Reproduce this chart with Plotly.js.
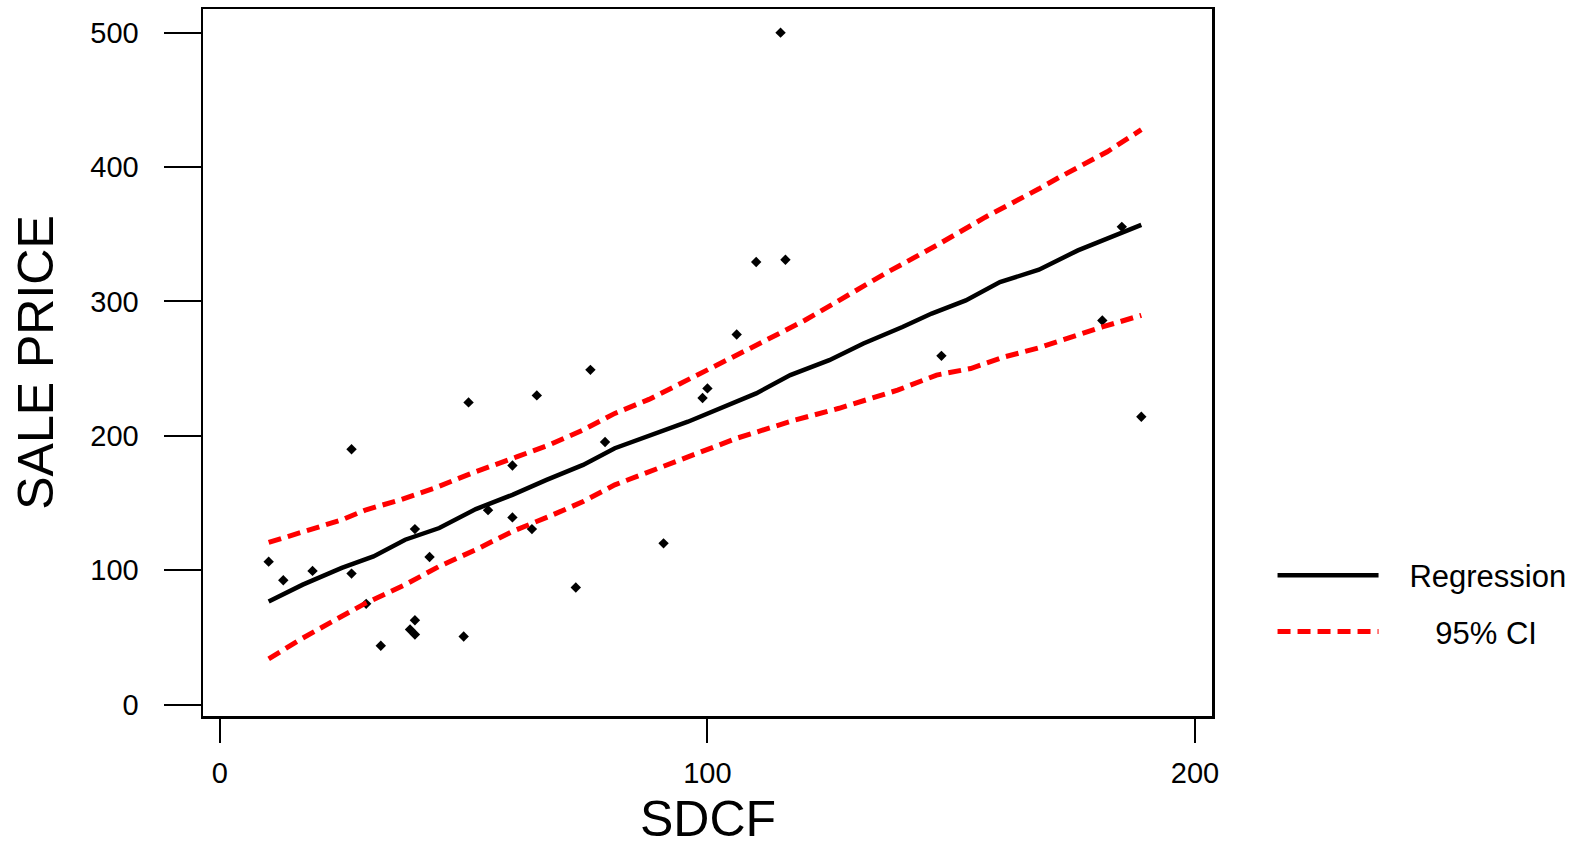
<!DOCTYPE html>
<html>
<head>
<meta charset="utf-8">
<script src="https://cdn.plot.ly/plotly-3.0.1.min.js"></script>
<style>html,body{margin:0;padding:0;background:#fff;}#chart{width:1581px;height:842px;}</style>
</head>
<body>
<div id="chart"></div>
<script>
// Observed data points (SDCF vs SALE PRICE)
const sdcf = [10, 13, 19, 27, 27, 30, 33, 40, 39, 40, 40, 43, 50, 51, 55, 60, 60, 64, 65, 73, 76, 79,
              91, 99, 100, 106, 110, 115, 116, 148, 181, 185, 189];
const salePrice = [106.4, 92.5, 99.5, 190, 97.5, 75, 43.8, 130.6, 55.9, 52.2, 62.8, 109.9, 50.7, 224.9, 144.7, 177.9, 139.3, 130.6, 230.1, 87.1, 249.1, 195.4,
                   120, 228.1, 235.3, 275.4, 329.3, 500, 331, 259.5, 285.8, 355.5, 214.2];

// Regression line
const regX = [10, 17, 25, 31.5, 38, 45, 52.5, 60, 67, 74.5, 81, 88, 96, 110, 117, 125, 132, 140, 146, 153, 160, 168, 176, 189];
const regY = [76.7, 89.3, 101.7, 110.3, 122.7, 131.4, 145.5, 156.1, 167.2, 178.4, 190.8, 199.9, 210.5, 231.6, 245.2, 256.3, 268.7, 281, 291, 300.8, 314.4, 323.6, 338, 357];

// Upper 95% CI
const upX = [10, 18, 25, 30, 37, 44, 52.5, 61, 67.5, 74.5, 81, 88, 96, 103, 110, 120, 127, 137, 147, 157, 168, 172, 182, 189];
const upY = [120.7, 130.1, 137.5, 145, 152.4, 161.1, 173.4, 184.5, 193.2, 204.4, 216.7, 227.1, 241.5, 253.9, 267.4, 286, 301, 321.9, 341.7, 362.7, 383.8, 392, 411.4, 427.8];

// Lower 95% CI
const loX = [10, 16.5, 25, 30, 38, 45, 52.5, 60, 67.5, 74.5, 81, 88, 96, 106, 118, 127, 139, 147, 154, 161, 168, 174.5, 181, 189];
const loY = [34.1, 48.5, 65.8, 75.7, 89.3, 102.9, 115.3, 128.9, 140, 151.1, 163.5, 173.4, 184.5, 198.2, 211.8, 220.5, 234, 245.2, 250.1, 258.8, 265.5, 273.6, 281, 289.7];

const xTicks = [0, 100, 200];
const yTicks = [0, 100, 200, 300, 400, 500];
const xTitle = 'SDCF';
const yTitle = 'SALE PRICE';

const FONT = 'Liberation Sans, Arial, sans-serif';
const red = '#ff0000';
const dashStyle = '13px,7px';
const NB = '\u00a0';

const traces = [
  {x: sdcf, y: salePrice, type: 'scatter', mode: 'markers', showlegend: false,
   marker: {symbol: 'diamond', size: 8, color: '#000'}},
  {x: regX, y: regY, type: 'scatter', mode: 'lines', name: NB.repeat(3) + 'Regression', legendgroup: 'a',
   line: {color: '#000', width: 4.5}},
  {x: upX, y: upY, type: 'scatter', mode: 'lines', name: NB.repeat(6) + '95% CI', legendgroup: 'b',
   line: {color: red, width: 5, dash: dashStyle}},
  {x: loX, y: loY, type: 'scatter', mode: 'lines', showlegend: false, legendgroup: 'b',
   line: {color: red, width: 5, dash: dashStyle}}
];

const layout = {
  width: 1581, height: 842,
  margin: {l: 203, r: 369, t: 9, b: 126, autoexpand: false},
  paper_bgcolor: '#fff', plot_bgcolor: '#fff',
  font: {family: FONT, color: '#000', size: 29},
  xaxis: {
    range: [-3.47, 203.5], tickvals: xTicks, ticktext: xTicks.map(String),
    showline: true, mirror: true, linecolor: '#000', linewidth: 2.5,
    ticks: 'outside', ticklen: 24, tickwidth: 2, tickcolor: '#000',
    ticklabelstandoff: 6,
    showgrid: false, zeroline: false, automargin: false,
    tickfont: {family: FONT, size: 29, color: '#000'}
  },
  yaxis: {
    range: [-8.46, 517.6], tickvals: yTicks, ticktext: yTicks.map(String),
    showline: true, mirror: true, linecolor: '#000', linewidth: 2.5,
    ticks: 'outside', ticklen: 37, tickwidth: 2, tickcolor: '#000',
    ticklabelstandoff: 19,
    showgrid: false, zeroline: false, automargin: false,
    tickfont: {family: FONT, size: 29, color: '#000'},
    title: {text: yTitle, font: {family: FONT, size: 50, color: '#000'}, standoff: 21}
  },
  annotations: [
    {text: xTitle, xref: 'paper', yref: 'paper', x: 0.5005, y: -0.145,
     xanchor: 'center', yanchor: 'middle', showarrow: false,
     font: {family: FONT, size: 50, color: '#000'}}
  ],
  showlegend: true,
  legend: {
    x: 1.06, y: 0.159, xanchor: 'left', yanchor: 'middle',
    font: {family: FONT, size: 31, color: '#000'},
    bgcolor: 'rgba(0,0,0,0)', borderwidth: 0,
    itemwidth: 101, traceorder: 'grouped', tracegroupgap: 13
  }
};

Plotly.newPlot('chart', traces, layout, {displayModeBar: false, staticPlot: true});
</script>
</body>
</html>
